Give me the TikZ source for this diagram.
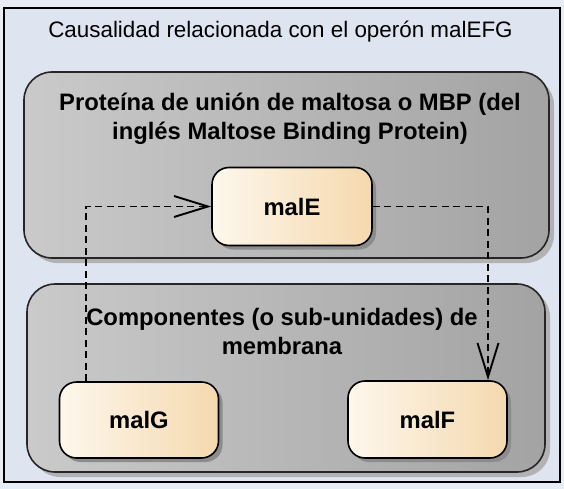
\documentclass[tikz,border=0pt]{standalone}
\usepackage{fontspec}
\setmainfont{Liberation Sans}
\usetikzlibrary{arrows.meta, positioning, shadows}
\definecolor{pagebg}{RGB}{232,236,245}
\definecolor{framebg}{RGB}{223,228,241}
\definecolor{groupleft}{RGB}{202,202,202}
\definecolor{groupright}{RGB}{163,163,163}
\definecolor{geneleft}{RGB}{253,247,237}
\definecolor{generight}{RGB}{245,217,174}
\newcommand{\titlefont}{\fontsize{22.4}{26}\selectfont}
\newcommand{\groupfont}{\fontsize{23.8}{29}\selectfont\bfseries}
\tikzset{
  frame/.style = {draw=black, line width=2pt, fill=framebg,
                  minimum width=556pt, minimum height=474pt, inner sep=0pt},
  group/.style = {draw=black!85, line width=1.6pt, rounded corners=28pt,
                  left color=groupleft, right color=groupright, inner sep=0pt,
                  drop shadow={shadow xshift=5pt, shadow yshift=-5pt,
                               fill=black!30, opacity=1}},
  group label/.style = {align=center, font=\groupfont, inner sep=0pt},
  gene/.style = {draw=black, line width=1.6pt, rounded corners=17pt,
                 left color=geneleft, right color=generight, inner sep=0pt,
                 minimum width=159pt, minimum height=78pt, font=\groupfont,
                 drop shadow={shadow xshift=4pt, shadow yshift=-4pt,
                              fill=black!45, opacity=1}},
  relation/.style = {line width=1.9pt, dash pattern=on 7pt off 4.5pt,
                     arrows={-Straight Barb[length=34pt, width=21pt]}},
}

\begin{document}
\begin{tikzpicture}[x=1pt, y=-1pt]
    %% Page background and the diagram frame
    \fill [pagebg] (0, 0) rectangle (564, 489);
    \useasboundingbox (0, 0) rectangle (564, 489);
    \node [frame] (diagram) at (282, 245) {};
    \node [font=\titlefont, inner sep=0pt] (title) at (280.5, 32)
          {Causalidad relacionada con el operón malEFG};

    %% The two groups
    \node [group, minimum width=525pt, minimum height=186pt] (mbp) at (286.5, 165) {};
    \node [group label] (mbp_label) at (290, 118.5)
          {Proteína de unión de maltosa o MBP (del\\inglés Maltose Binding Protein)};
    \node [group, minimum width=518pt, minimum height=188pt] (membrane) at (286, 378) {};
    \node [group label] (membrane_label) at (282, 331.5)
          {Componentes (o sub-unidades) de\\membrana};

    %% The genes
    \node [gene, minimum width=160pt] (malE) at (292, 206.5) {malE};
    \node [gene, minimum height=76pt] (malG) at (139, 420) {malG};
    \node [gene, minimum height=77pt] (malF) at (427.5, 419.5) {malF};

    %% Causal relations
    \draw [relation] ([xshift=-53pt] malG.north) |- (malE.west);
    \draw [relation] (malE.east) -| ([xshift=60.5pt] malF.north);
\end{tikzpicture}
\end{document}
